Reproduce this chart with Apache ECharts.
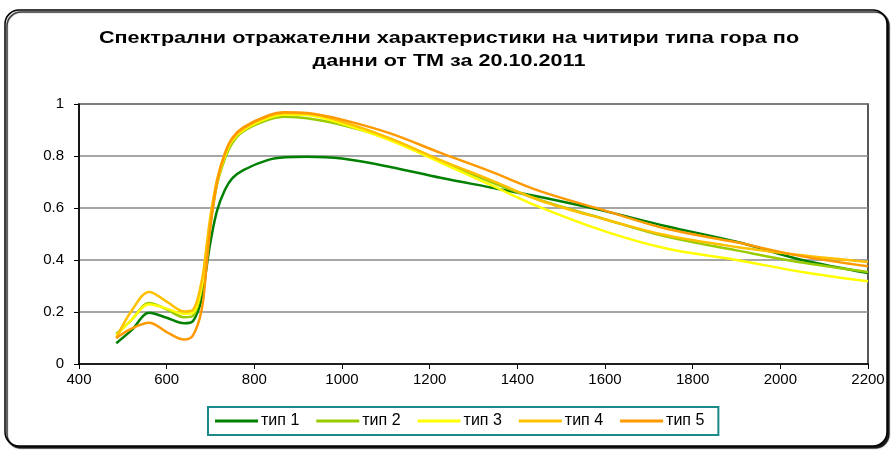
<!DOCTYPE html>
<html>
<head>
<meta charset="utf-8">
<script src="https://cdn.jsdelivr.net/npm/echarts@6/dist/echarts.min.js"></script>
<style>
  html, body { margin: 0; padding: 0; background: #fff; }
  #chart { width: 896px; height: 451px; }
</style>
</head>
<body>
<div id="chart"></div>
<script>
// Wavelengths (nm)
const wavelengths = [485, 520, 560, 600, 640, 660, 680, 690, 700, 715, 733, 750, 775, 830, 870, 920, 1000, 1110, 1225, 1340, 1450, 1600, 1740, 1900, 2050, 2200];

// Reflectance per forest type
const tip1 = [0.08, 0.13, 0.197, 0.178, 0.157, 0.165, 0.25, 0.36, 0.47, 0.59, 0.67, 0.715, 0.746, 0.784, 0.795, 0.797, 0.79, 0.758, 0.716, 0.679, 0.643, 0.588, 0.530, 0.47, 0.40, 0.35];
const tip2 = [0.116, 0.17, 0.235, 0.21, 0.18, 0.185, 0.29, 0.41, 0.54, 0.69, 0.79, 0.85, 0.895, 0.938, 0.951, 0.945, 0.919, 0.865, 0.78, 0.70, 0.632, 0.557, 0.49, 0.437, 0.39, 0.354];
const tip3 = [0.11, 0.17, 0.23, 0.213, 0.193, 0.197, 0.30, 0.42, 0.55, 0.70, 0.80, 0.86, 0.90, 0.945, 0.96, 0.958, 0.925, 0.86, 0.775, 0.688, 0.604, 0.51, 0.444, 0.40, 0.354, 0.318];
const tip4 = [0.10, 0.205, 0.277, 0.24, 0.202, 0.208, 0.32, 0.44, 0.57, 0.71, 0.81, 0.865, 0.906, 0.952, 0.965, 0.963, 0.932, 0.868, 0.784, 0.707, 0.630, 0.556, 0.495, 0.45, 0.418, 0.392];
const tip5 = [0.10, 0.136, 0.159, 0.123, 0.094, 0.11, 0.21, 0.36, 0.53, 0.70, 0.81, 0.87, 0.91, 0.955, 0.968, 0.965, 0.94, 0.887, 0.812, 0.740, 0.666, 0.59, 0.52, 0.468, 0.414, 0.376];

const seriesNames = ['тип 1', 'тип 2', 'тип 3', 'тип 4', 'тип 5'];
const seriesValues = [tip1, tip2, tip3, tip4, tip5];
const colors = ['#008000', '#99cc00', '#ffff00', '#ffc000', '#ff9900'];

const titleLines = ['Спектрални отражателни характеристики на читири типа гора по', 'данни от ТМ за 20.10.2011'];

const chart = echarts.init(document.getElementById('chart'));

const option = {
  animation: false,
  textStyle: { fontFamily: 'Liberation Sans, Arial, sans-serif' },
  graphic: [
    {
      type: 'rect',
      z: -10,
      shape: { x: 5, y: 10, width: 882, height: 436, r: 14 },
      style: {
        fill: '#fff',
        stroke: '#000',
        lineWidth: 1.5,
        shadowColor: 'rgba(0,0,0,0.9)',
        shadowOffsetX: 2,
        shadowOffsetY: 2,
        shadowBlur: 1
      }
    },
    // title, stretched a little wider like the original
    {
      type: 'text',
      x: 449,
      y: 50,
      scaleX: 1.27,
      style: {
        text: titleLines.join('\n'),
        font: 'bold 17px "Liberation Sans", Arial, sans-serif',
        fill: '#000',
        align: 'center',
        verticalAlign: 'middle',
        lineHeight: 23
      }
    }
  ],
  legend: {
    data: seriesNames,
    left: 208,
    top: 407,
    icon: 'rect',
    itemWidth: 43,
    itemHeight: 3,
    itemGap: 17,
    padding: [6, 14, 6, 7],
    borderColor: '#1a8a8a',
    borderWidth: 2,
    textStyle: { fontSize: 16, color: '#000', padding: [0, 0, 0, -2] }
  },
  grid: {
    left: 79,
    right: 28,
    top: 104,
    bottom: 87,
    show: true,
    borderColor: '#222',
    borderWidth: 1.5
  },
  xAxis: {
    type: 'value',
    min: 400,
    max: 2200,
    interval: 200,
    axisLine: { lineStyle: { color: '#000', width: 1.5 } },
    axisTick: { show: true, length: 5, lineStyle: { color: '#000' } },
    axisLabel: { fontSize: 15, color: '#000', margin: 8, formatter: v => String(v) },
    splitLine: { show: false }
  },
  yAxis: {
    type: 'value',
    min: 0,
    max: 1,
    interval: 0.2,
    axisLine: { show: true, lineStyle: { color: '#000', width: 1.5 } },
    axisTick: { show: true, length: 5, lineStyle: { color: '#000' } },
    axisLabel: { fontSize: 15, color: '#000', margin: 15 },
    splitLine: { lineStyle: { color: '#888', width: 1.5 } }
  },
  series: seriesNames.map((name, i) => ({
    name: name,
    type: 'line',
    smooth: 0.35,
    symbol: 'none',
    data: wavelengths.map((w, j) => [w, seriesValues[i][j]]),
    lineStyle: { color: colors[i], width: 2.5 },
    itemStyle: { color: colors[i] }
  }))
};

chart.setOption(option);
</script>
</body>
</html>
